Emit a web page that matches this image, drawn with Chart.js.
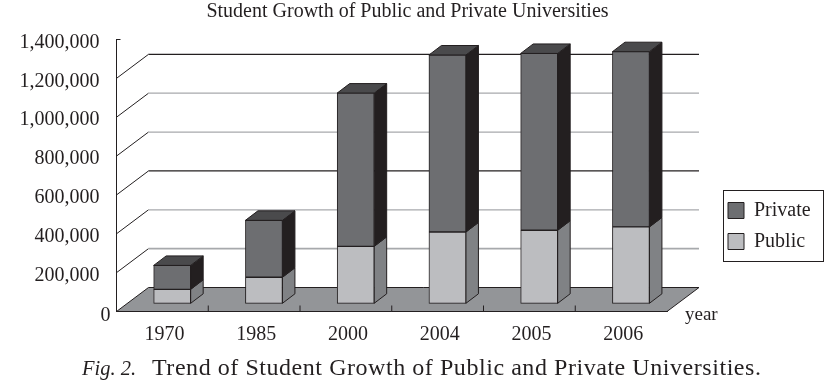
<!DOCTYPE html>
<html>
<head>
<meta charset="utf-8">
<title>Student Growth</title>
<script src="https://cdn.jsdelivr.net/npm/chart.js@4"></script>
<style>
html, body { margin: 0; padding: 0; background: #fff; }
canvas { display: block; }
</style>
</head>
<body>
<canvas id="growthChart" width="831" height="386"></canvas>
<script>
const years = ['1970', '1985', '2000', '2004', '2005', '2006'];
const publicStudents = [72000, 134000, 293000, 367000, 376000, 393000];
const privateStudents = [123000, 293000, 789000, 911000, 910000, 902000];
const gridColors = {
    200000: '#a7a9ac', 400000: '#a7a9ac', 600000: '#231f20',
    800000: '#a7a9ac', 1000000: '#a7a9ac', 1200000: '#231f20'
};

const FONT = '"Liberation Serif", serif';
const INK = '#231f20';
// depth of the floor, and where the bars sit on it
const WALL_X = 32, WALL_Y = 24;
const BAR_X = 9.8, BAR_Y = 8.2;
const SIDE_X = 12.5, SIDE_Y = 9.5;

function poly(ctx, pts, fill, stroke) {
    ctx.beginPath();
    pts.forEach((p, i) => i ? ctx.lineTo(p[0], p[1]) : ctx.moveTo(p[0], p[1]));
    ctx.closePath();
    if (fill) { ctx.fillStyle = fill; ctx.fill(); }
    if (stroke) { ctx.strokeStyle = stroke; ctx.lineWidth = 1; ctx.stroke(); }
}

function line(ctx, x1, y1, x2, y2, color, width) {
    ctx.beginPath();
    ctx.moveTo(x1, y1);
    ctx.lineTo(x2, y2);
    ctx.strokeStyle = color;
    ctx.lineWidth = width || 1;
    ctx.stroke();
}

const depthPlugin = {
    id: 'depth',
    afterLayout(chart) {
        // legend goes beside the plot, chartArea position reserves no room for it
        Object.assign(chart.legend, { left: 717, right: 823.5, top: 172, bottom: 280 });
        // the title is centred over the plot plus the legend, not the padded area
        Object.assign(chart.titleBlock, { left: 0, right: 815 });
    },
    beforeDatasetsDraw(chart) {
        const { ctx, chartArea: a, scales } = chart;
        const y = scales.y;
        ctx.save();
        // floor
        poly(ctx, [[a.left, a.bottom], [a.right, a.bottom], [a.right + WALL_X, a.bottom - WALL_Y], [a.left + WALL_X, a.bottom - WALL_Y]], '#939598', INK);
        // gridlines running up the left side and across the back wall
        y.ticks.forEach(t => {
            if (!gridColors[t.value]) return;
            const py = y.getPixelForValue(t.value);
            line(ctx, a.left, py, a.left + WALL_X, py - WALL_Y, INK);
            line(ctx, a.left + WALL_X, py - WALL_Y, a.right + WALL_X, py - WALL_Y, gridColors[t.value], t.value === 200000 ? 1.6 : 1.2);
        });
        line(ctx, a.left, a.top, a.left + 4, a.top, INK);
        // tick marks between categories
        const step = (a.right - a.left) / years.length;
        for (let i = 1; i < years.length; i++) {
            line(ctx, a.left + step * i, a.bottom, a.left + step * i, a.bottom - 6, INK);
        }
        // sides and tops of the bars
        const sideColors = ['#808285', INK];
        chart.data.datasets.forEach((ds, d) => {
            chart.getDatasetMeta(d).data.forEach(el => {
                const xr = el.x + el.width / 2 + BAR_X;
                const xl = el.x - el.width / 2 + BAR_X;
                const yt = el.y - BAR_Y;
                const yb = el.base - BAR_Y;
                poly(ctx, [[xr, yt], [xr + SIDE_X, yt - SIDE_Y], [xr + SIDE_X, yb - SIDE_Y], [xr, yb]], sideColors[d], INK);
                if (d === 1) {
                    poly(ctx, [[xl, yt], [xr, yt], [xr + SIDE_X, yt - SIDE_Y], [xl + SIDE_X, yt - SIDE_Y]], '#4a4a4c', INK);
                }
            });
        });
        ctx.restore();
    },
    beforeDatasetDraw(chart) {
        chart.ctx.save();
        chart.ctx.translate(BAR_X, -BAR_Y);
    },
    afterDatasetDraw(chart) {
        chart.ctx.restore();
    },
    afterDraw(chart) {
        const { ctx } = chart;
        ctx.save();
        ctx.strokeStyle = INK;
        ctx.lineWidth = 1;
        ctx.strokeRect(723.5, 190.5, 100, 71);
        ctx.fillStyle = INK;
        ctx.textBaseline = 'alphabetic';
        // the zero sits closer to the axis than the other labels
        ctx.font = '20px ' + FONT;
        ctx.fillText('0', 100.5, 321);
        ctx.font = '19px ' + FONT;
        ctx.fillText('year', 685, 320);
        ctx.font = 'italic 20.5px ' + FONT;
        ctx.fillText('Fig. 2.', 82, 375);
        ctx.font = '24px ' + FONT;
        ctx.letterSpacing = '0.55px';
        ctx.fillText('Trend of Student Growth of Public and Private Universities.', 152, 375);
        ctx.restore();
    }
};

new Chart(document.getElementById('growthChart'), {
    type: 'bar',
    data: {
        labels: years,
        datasets: [
            { label: 'Public', data: publicStudents, backgroundColor: '#bcbdc0', borderColor: INK, borderWidth: 1, borderSkipped: false, clip: false },
            { label: 'Private', data: privateStudents, backgroundColor: '#6d6e71', borderColor: INK, borderWidth: 1, borderSkipped: false, clip: false }
        ]
    },
    options: {
        responsive: false,
        animation: false,
        barThickness: 37,
        layout: { padding: { left: 0, right: 164, top: 0, bottom: 0 } },
        plugins: {
            title: {
                display: true,
                text: 'Student Growth of Public and Private Universities',
                color: INK,
                font: { family: FONT, size: 20, weight: 'normal', lineHeight: 1 },
                padding: { top: 2, bottom: 17.5 }
            },
            legend: {
                position: 'chartArea',
                reverse: true,
                labels: {
                    color: INK,
                    boxWidth: 16,
                    boxHeight: 16,
                    padding: 11,
                    font: { family: FONT, size: 20 }
                }
            },
            tooltip: { enabled: false }
        },
        scales: {
            x: {
                stacked: true,
                grid: { display: false },
                border: { display: true, color: INK },
                ticks: { color: INK, font: { family: FONT, size: 20 }, padding: 3, labelOffset: 2, maxRotation: 0 },
                afterFit: s => { s.height = 74.5; }
            },
            y: {
                stacked: true,
                min: 0,
                max: 1400000,
                grid: { display: false },
                border: { display: true, color: INK },
                ticks: {
                    stepSize: 200000,
                    color: INK,
                    padding: 9,
                    labelOffset: 3,
                    font: { family: FONT, size: 20 },
                    callback: v => v === 0 ? '' : v.toLocaleString('en-US')
                },
                afterFit: s => { s.width = 116.5; }
            }
        }
    },
    plugins: [depthPlugin]
});
</script>
</body>
</html>
